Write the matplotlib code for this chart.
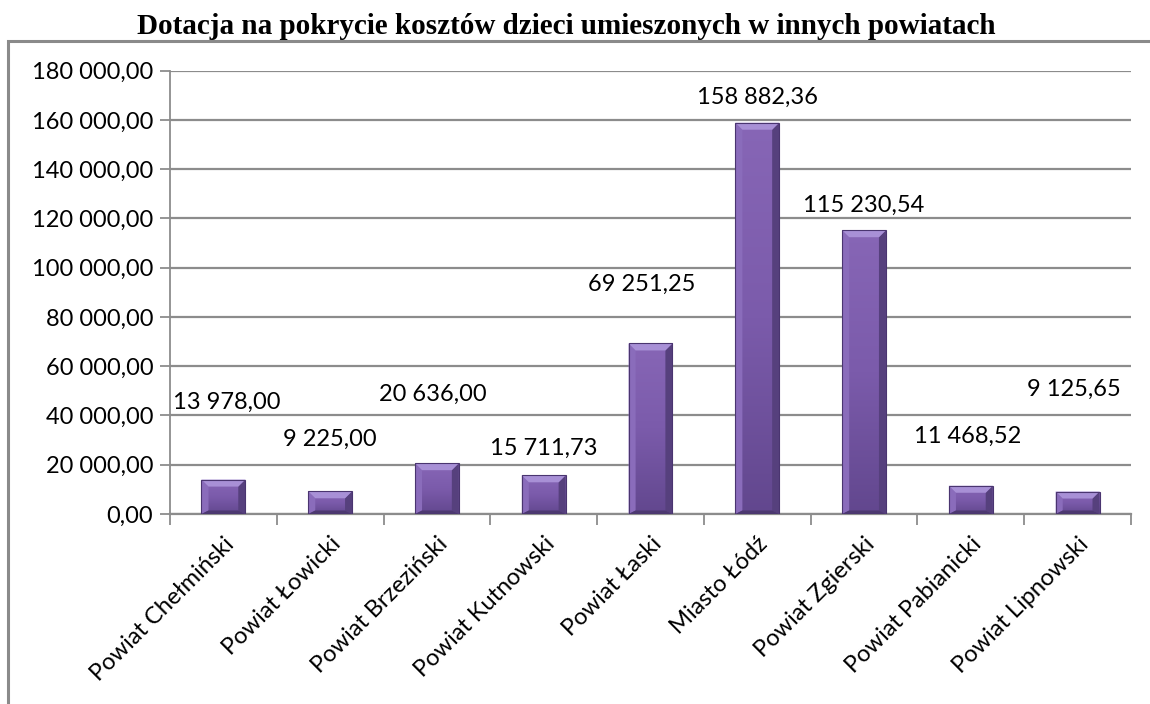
import matplotlib
matplotlib.use("Agg")
import matplotlib.pyplot as plt
import numpy as np
from matplotlib.patches import Rectangle, Polygon
from matplotlib.ticker import FuncFormatter, MultipleLocator
from matplotlib.colors import LinearSegmentedColormap

# ---- data ----
categories = ["Powiat Chełmiński", "Powiat Łowicki", "Powiat Brzeziński",
              "Powiat Kutnowski", "Powiat Łaski", "Miasto Łódź",
              "Powiat Zgierski", "Powiat Pabianicki", "Powiat Lipnowski"]
values = [13978.00, 9225.00, 20636.00, 15711.73, 69251.25,
          158882.36, 115230.54, 11468.52, 9125.65]
title = "Dotacja na pokrycie kosztów dzieci umieszonych w innych powiatach"

# label offsets (pixels: dx, dy of label centre above bar top) - layout only
label_offsets = [(3, 77), (0, 52), (-4, 69), (0, 27), (-9, 59),
                 (0, 25), (0, 25), (-3, 49), (-4, 102)]

DPI = 100
fig = plt.figure(figsize=(11.5, 7.04), dpi=DPI)
fig.patch.set_facecolor("white")

# outer frame (clipped at right/bottom like the reference)
frame = Rectangle((8 / 1150, -0.1), 1.2, 1 - 41 / 704 + 0.1, transform=fig.transFigure,
                  fill=False, edgecolor="#8a8a8a", linewidth=2.2, clip_on=False)
fig.patches.append(frame)

fig.text(566 / 1150, 1 - 26 / 704, title, ha="center", va="center",
         family="Liberation Serif", fontweight="bold", fontsize=21)

ax = fig.add_axes([170 / 1150, 1 - 514 / 704, (1131 - 170) / 1150, (514 - 70.7) / 704])
ax.set_xlim(-0.5, len(categories) - 0.5)
ax.set_ylim(0, 180000)
ax.set_facecolor("none")

font = "Lato"
fs = 17

# grid
ax.yaxis.set_major_locator(MultipleLocator(20000))
ax.grid(axis="y", color="#8c8c8c", linewidth=1.6, zorder=0)
ax.set_axisbelow(True)
for s in ["top", "right"]:
    ax.spines[s].set_visible(False)
ax.spines["left"].set_color("#8c8c8c")
ax.spines["bottom"].set_color("#8c8c8c")
ax.spines["left"].set_linewidth(1.3)
ax.spines["bottom"].set_linewidth(1.6)

def fmt(v, pos=None):
    s = f"{v:,.2f}"
    return s.replace(",", " ").replace(".", ",")

ax.yaxis.set_major_formatter(FuncFormatter(fmt))
ax.tick_params(axis="y", length=7, width=1.3, color="#8c8c8c", labelsize=fs, pad=5)
for t in ax.get_yticklabels():
    t.set_family(font)

x = np.arange(len(categories))
ax.set_xticks(x)
ax.set_xticklabels(categories, rotation=45, ha="right", rotation_mode="anchor",
                   family=font, fontsize=fs)
ax.tick_params(axis="x", length=0, pad=14)
# minor ticks at category boundaries
ax.set_xticks(np.arange(-0.5, len(categories) + 0.5, 1), minor=True)
ax.tick_params(axis="x", which="minor", length=8, width=1.3, color="#8c8c8c")

bw = 0.41
bars = ax.bar(x, values, width=bw, color="#7a5aa8", zorder=3, linewidth=0)

# bevel effect
px_x = (1131 - 170) / 9.0          # pixels per category
px_y = (514 - 70.7) / 180000.0     # pixels per data unit
bev = 7.0
dx = bev / px_x
dy = bev / px_y
grad = np.linspace(0, 1, 256).reshape(-1, 1)
cmap = LinearSegmentedColormap.from_list("b", ["#62478e", "#7b5bab", "#8766b6"])
for b in bars:
    x0, y0 = b.get_x(), b.get_y()
    w, h = b.get_width(), b.get_height()
    x1, y1 = x0 + w, y0 + h
    im = ax.imshow(grad, extent=(x0, x1, y0, y1), aspect="auto", cmap=cmap,
                   origin="lower", zorder=3.1, interpolation="bilinear")
    im.set_clip_path(b)
    ddy = min(dy, h / 2)
    # top bevel
    ax.add_patch(Polygon([(x0, y1), (x1, y1), (x1 - dx, y1 - ddy), (x0 + dx, y1 - ddy)],
                         closed=True, facecolor="#a890d6", edgecolor="none", zorder=3.3))
    # left bevel
    ax.add_patch(Polygon([(x0, y0), (x0 + dx, y0 + ddy * 0.5), (x0 + dx, y1 - ddy), (x0, y1)],
                         closed=True, facecolor="#8a6cbb", edgecolor="none", zorder=3.2))
    # right bevel
    ax.add_patch(Polygon([(x1, y0), (x1 - dx, y0 + ddy * 0.5), (x1 - dx, y1 - ddy), (x1, y1)],
                         closed=True, facecolor="#56407d", edgecolor="none", zorder=3.2))
    # bottom bevel
    ax.add_patch(Polygon([(x0, y0), (x1, y0), (x1 - dx, y0 + ddy * 0.5), (x0 + dx, y0 + ddy * 0.5)],
                         closed=True, facecolor="#4c3870", edgecolor="none", zorder=3.2))
    ax.add_patch(Rectangle((x0, y0), w, h, fill=False, edgecolor="#4a3570",
                           linewidth=0.8, zorder=3.4))

ax.set_xlim(-0.5, len(categories) - 0.5)
ax.set_ylim(0, 180000)

for i, (xi, v) in enumerate(zip(x, values)):
    ox, oy = label_offsets[i]
    ax.annotate(fmt(v), xy=(xi, v), xytext=(ox * 72 / DPI, oy * 72 / DPI),
                textcoords="offset points", ha="center", va="center",
                family=font, fontsize=fs, zorder=5, annotation_clip=False)

fig.savefig("out.png", dpi=DPI)
